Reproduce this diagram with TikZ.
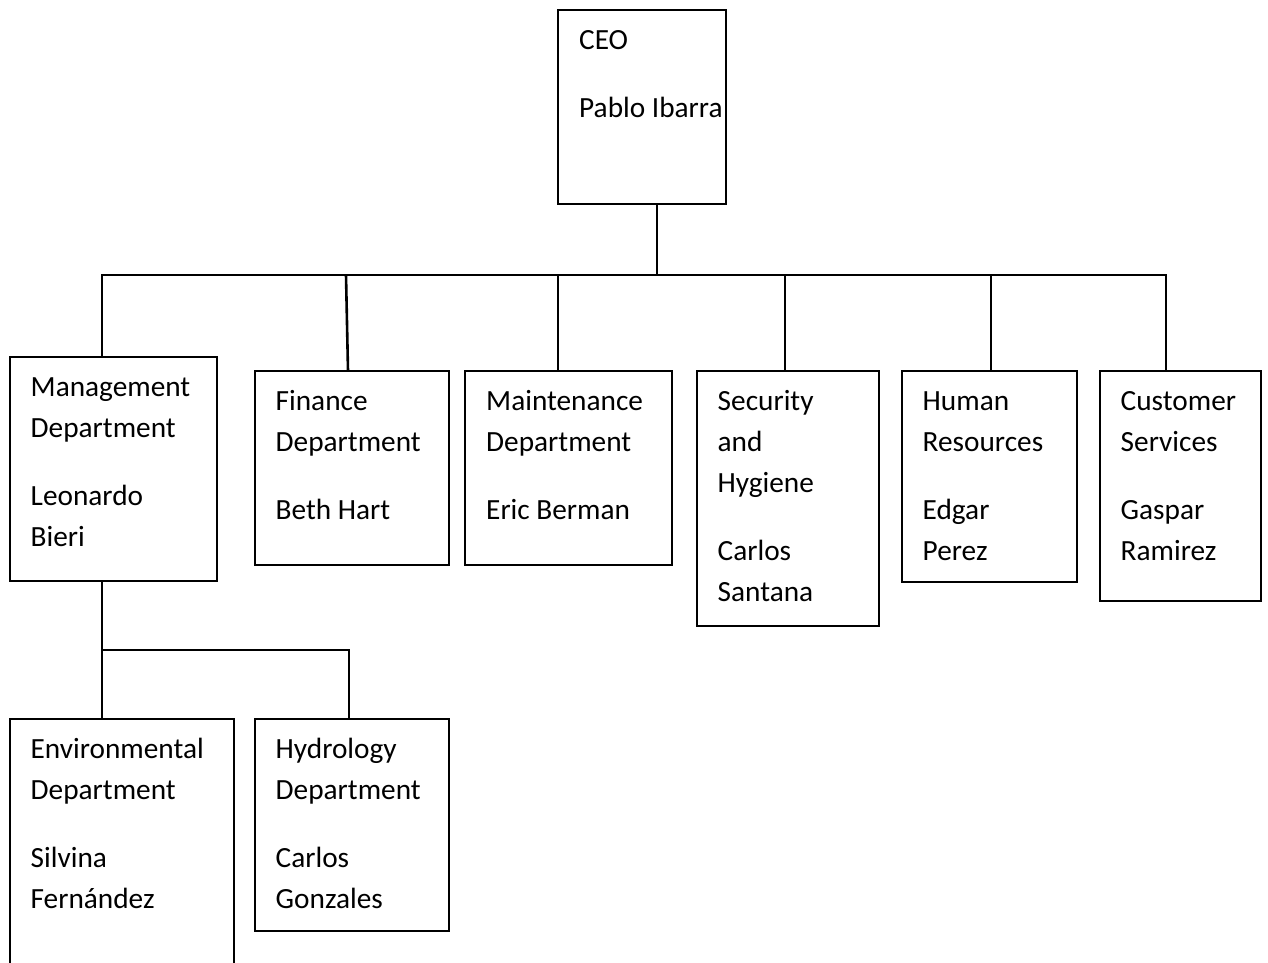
\documentclass[tikz,border=0pt]{standalone}
\usepackage{fontspec}
\setmainfont{Carlito}
\usetikzlibrary{positioning}

\begin{document}
\begin{tikzpicture}[
    x=1pt, y=-1pt,
    every node/.style={inner sep=0pt},
    frame/.style={draw, line width=2.6pt, rectangle, outer sep=0pt, anchor=north west},
    words/.style={align=left, font=\fontsize{29.3}{41}\selectfont},
    link/.style={draw, line width=2.6pt}
]

\useasboundingbox (0,0) rectangle (1268,963);

% CEO
\node[frame, minimum width=168pt, minimum height=194pt] (ceo) at (558,10) {};
\node[words, below right=10.5pt and 21pt of ceo.north west] (ceo_text) {\strut CEO\\[27pt]Pablo Ibarra};

% Departments
\node[frame, minimum width=207pt, minimum height=224pt] (mgmt) at (10,357) {};
\node[words, below right=10.5pt and 20.5pt of mgmt.north west] (mgmt_text) {\strut Management\\Department\\[27pt]Leonardo\\Bieri};

\node[frame, minimum width=194pt, minimum height=194pt] (fin) at (255,371) {};
\node[words, below right=10.5pt and 20.5pt of fin.north west] (fin_text) {\strut Finance\\Department\\[27pt]Beth Hart};

\node[frame, minimum width=207pt, minimum height=194pt] (maint) at (465,371) {};
\node[words, below right=10.5pt and 21pt of maint.north west] (maint_text) {\strut Maintenance\\Department\\[27pt]Eric Berman};

\node[frame, minimum width=182pt, minimum height=255pt] (sec) at (697,371) {};
\node[words, below right=10.5pt and 20.5pt of sec.north west] (sec_text) {\strut Security\\and\\Hygiene\\[27pt]Carlos\\Santana};

\node[frame, minimum width=175pt, minimum height=211pt] (hr) at (902,371) {};
\node[words, below right=10.5pt and 20.5pt of hr.north west] (hr_text) {\strut Human\\Resources\\[27pt]Edgar\\Perez};

\node[frame, minimum width=161pt, minimum height=230pt] (cust) at (1100,371) {};
\node[words, below right=10.5pt and 20.5pt of cust.north west] (cust_text) {\strut Customer\\Services\\[27pt]Gaspar\\Ramirez};

% Sub-departments
\node[frame, minimum width=224pt, minimum height=280pt] (env) at (10,719) {};
\node[words, below right=10.5pt and 20.5pt of env.north west] (env_text) {\strut Environmental\\Department\\[27pt]Silvina\\Fernández};

\node[frame, minimum width=194pt, minimum height=212pt] (hyd) at (255,719) {};
\node[words, below right=10.5pt and 20.5pt of hyd.north west] (hyd_text) {\strut Hydrology\\Department\\[27pt]Carlos\\Gonzales};

% Main line
\coordinate (tap_ceo) at (657,275);
\coordinate (tap_mgmt) at (102,275);
\coordinate (tap_fin) at (346,275);
\coordinate (tap_maint) at (558,275);
\coordinate (tap_sec) at (785,275);
\coordinate (tap_hr) at (991,275);
\coordinate (tap_cust) at (1166,275);

\draw[link] (tap_mgmt |- mgmt.north) -- (tap_mgmt) -- (tap_cust) -- (tap_cust |- cust.north);
\draw[link] (tap_ceo |- ceo.south) -- (tap_ceo);
\draw[link] (tap_fin) -- ([xshift=2pt]tap_fin |- fin.north);
\draw[link] (tap_maint) -- (tap_maint |- maint.north);
\draw[link] (tap_sec) -- (tap_sec |- sec.north);
\draw[link] (tap_hr) -- (tap_hr |- hr.north);

% Line to the sub-departments
\coordinate (sub_l) at (102,650);
\coordinate (sub_r) at (349,650);

\draw[link] (sub_l |- mgmt.south) -- (sub_l |- env.north);
\draw[link] (sub_l) -- (sub_r) -- (sub_r |- hyd.north);

\end{tikzpicture}
\end{document}
